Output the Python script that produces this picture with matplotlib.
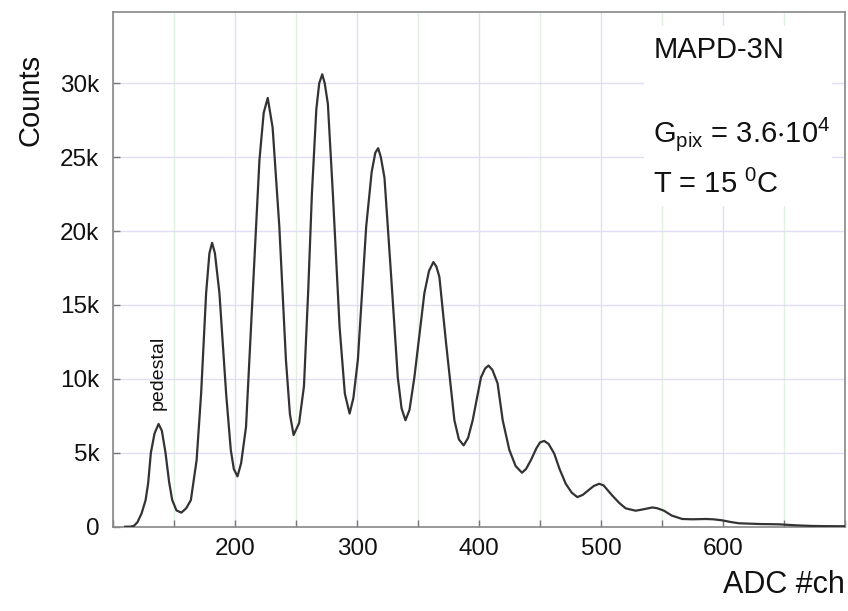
import matplotlib
matplotlib.use("Agg")
import matplotlib.pyplot as plt
from matplotlib.patches import Rectangle
from matplotlib.ticker import MultipleLocator, FuncFormatter

plt.rcParams["font.family"] = ["Liberation Sans", "DejaVu Sans"]
plt.rcParams["mathtext.fontset"] = "custom"
plt.rcParams["mathtext.rm"] = "Liberation Sans"

# spectrum (ADC channel, counts)
adc_ch = [110, 114, 117, 120, 123.4, 126.7, 128.8, 131, 134, 137.3, 140, 143, 146, 148.5, 152,
          156, 160, 163.8, 168.5, 172.2, 176.3, 179, 181.2, 183.5, 187.2, 192.7, 196.5, 199,
          202, 205, 209, 214.5, 220, 223.5, 226.8, 230.8, 236.3, 241.7, 245, 248, 252.5, 256.5,
          260, 263, 266.6, 269, 271.5, 273.5, 276.1, 280.2, 285.7, 290, 293.9, 297, 300.7, 307.5,
          312, 315, 317.3, 319.5, 322.5, 328, 333.4, 336.5, 339.7, 343, 347, 355.2, 359, 362.6,
          365, 367.5, 373, 379.8, 383.5, 387.4, 391, 394.8, 401.6, 405, 407.8, 411, 415.2, 419.4,
          424.8, 430, 435.2, 438.5, 442.5, 447, 450, 453.4, 457, 461.6, 466, 471.1, 476, 480.6,
          485, 490.2, 494, 498.4, 502, 509.3, 515, 520.2, 528.4, 535, 542, 546, 551.6, 558, 566.6,
          575, 585.7, 592, 599.3, 606, 613, 630, 645.7, 660, 673, 685, 697, 700]
counts = [0, 0, 50, 300, 900, 1800, 2950, 5000, 6300, 6950, 6500, 5000, 3000, 1800, 1100,
          950, 1250, 1800, 4500, 9000, 15800, 18500, 19200, 18500, 15800, 9000, 5200, 3900,
          3400, 4300, 6750, 15800, 24800, 28000, 29000, 27000, 20300, 11300, 7600, 6200, 7000, 9500,
          16000, 22500, 28200, 30000, 30600, 30000, 28600, 22500, 13500, 9000, 7650, 8700, 11300, 20300,
          24000, 25300, 25600, 25000, 23600, 16900, 10100, 8000, 7200, 7900, 10100, 15800, 17300, 17900,
          17600, 16900, 12400, 7200, 5900, 5500, 6000, 7200, 10100, 10700, 10900, 10600, 9700, 7200,
          5200, 4100, 3650, 3900, 4500, 5300, 5700, 5800, 5600, 4950, 3900, 2900, 2300, 2000,
          2150, 2500, 2750, 2900, 2800, 2100, 1600, 1240, 1080, 1180, 1300, 1250, 1080, 750, 520,
          500, 520, 500, 430, 320, 230, 180, 160, 90, 50, 35, 30, 30]

y_ticks = [0, 5000, 10000, 15000, 20000, 25000, 30000]

fig = plt.figure(figsize=(8.48, 6.11), dpi=100)
ax = fig.add_axes([0.1333, 0.138, 0.8632, 0.842])

ax.plot(adc_ch, counts, color="#333333", linewidth=1.6, zorder=3)

ax.set_xlim(100, 700)
ax.set_ylim(0, 34800)
ax.xaxis.set_major_locator(MultipleLocator(100))
ax.xaxis.set_minor_locator(MultipleLocator(50))
ax.set_yticks(y_ticks)
ax.yaxis.set_major_formatter(FuncFormatter(lambda v, p: "0" if v == 0 else f"{int(v/1000)}k"))
ax.xaxis.set_major_formatter(FuncFormatter(lambda v, p: "" if v == 100 or v == 700 else f"{int(v)}"))

ax.grid(which="major", axis="both", color="#dedef6", linewidth=1, zorder=0)
ax.grid(which="minor", axis="x", color="#dff2df", linewidth=1, zorder=0)
ax.set_axisbelow(True)

ax.tick_params(which="both", direction="in", length=5, width=1, color="#777777",
               top=False, right=False, labelsize=17.5, labelcolor="#111111")
ax.tick_params(axis="x", pad=8)
ax.tick_params(axis="y", pad=10)
for s in ax.spines.values():
    s.set_color("#888888")
    s.set_linewidth(1.2)

# white panel behind the annotation
ax.add_patch(Rectangle((0.725, 0.624), 0.257, 0.35, transform=ax.transAxes,
                       facecolor="white", edgecolor="none", zorder=1))

ax.text(543, 31700, "MAPD-3N", fontsize=21, color="#111111", va="baseline", zorder=4)
ax.text(543, 26000, r"$\mathregular{G_{pix}}$ = 3.6$\mathregular{\cdot10^4}$", fontsize=21,
        color="#111111", va="baseline", zorder=4)
ax.text(543, 22600, r"T = 15 $\mathregular{^0}$C", fontsize=21, color="#111111",
        va="baseline", zorder=4)

ax.text(137, 7900, "pedestal", rotation=90, fontsize=14, color="#111111",
        ha="center", va="bottom", zorder=4)

ax.set_ylabel("Counts", fontsize=21, color="#111111", va="center")
ax.yaxis.set_label_coords(-0.113, 0.829)
ax.set_xlabel("ADC #ch", fontsize=22, color="#111111", ha="right", va="top")
ax.xaxis.set_label_coords(1.0, -0.085)

fig.savefig("out.png", dpi=100)
